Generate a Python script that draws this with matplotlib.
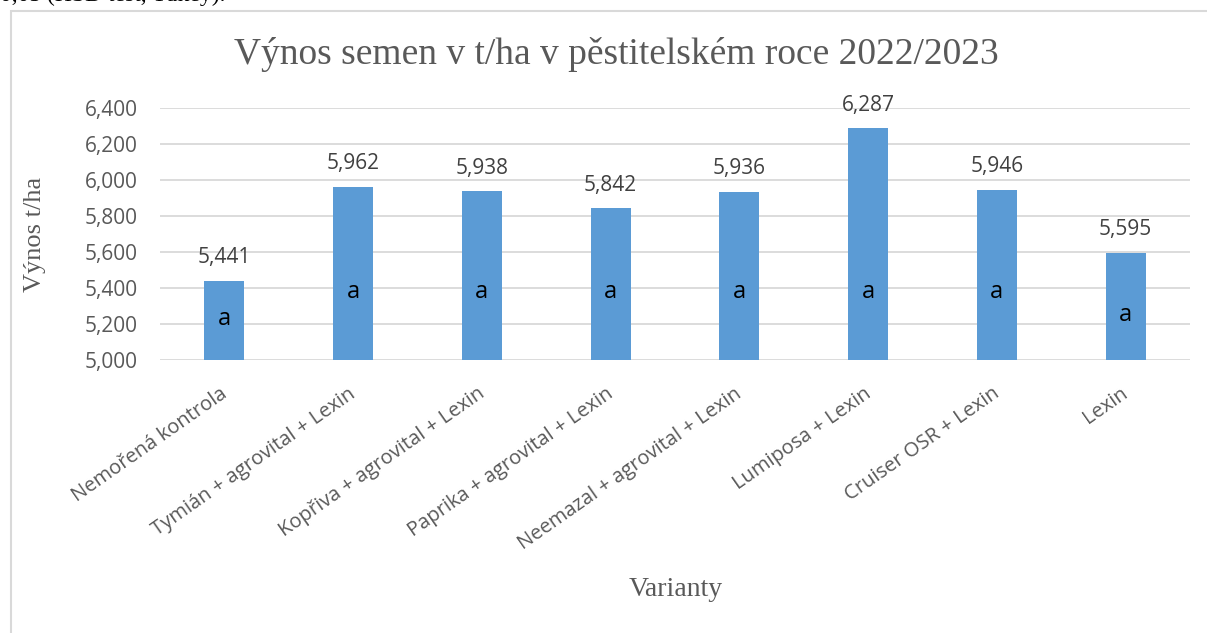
import matplotlib.pyplot as plt
import matplotlib.transforms as mtransforms
from matplotlib.patches import Rectangle
from matplotlib.ticker import FuncFormatter

BLUE = "#5B9BD5"
GREY_TEXT = "#595959"
GRID = "#D9D9D9"

categories = [
    "Nemořená kontrola",
    "Tymián + agrovital + Lexin",
    "Kopřiva + agrovital + Lexin",
    "Paprika + agrovital + Lexin",
    "Neemazal + agrovital + Lexin",
    "Lumiposa + Lexin",
    "Cruiser OSR + Lexin",
    "Lexin",
]
yields = [5441, 5962, 5938, 5842, 5936, 6287, 5946, 5595]
groups = ["a", "a", "a", "a", "a", "a", "a", "a"]
group_label_y = [5230, 5380, 5380, 5380, 5380, 5380, 5380, 5250]
yticks = [5000, 5200, 5400, 5600, 5800, 6000, 6200, 6400]

SANS = ["Open Sans", "DejaVu Sans"]
SERIF = ["Liberation Serif", "DejaVu Serif"]

fig = plt.figure(figsize=(12.07, 6.33), dpi=100)
ax = fig.add_axes([160 / 1207, 1 - 360 / 633, 1030 / 1207, 252 / 633])

# chart frame (Excel-style border, right/bottom edges run off the page)
fig.patches.append(Rectangle((11 / 1207, -0.05), 1.2, 1.05 - 11 / 633,
                             transform=fig.transFigure, fill=False,
                             edgecolor=GRID, linewidth=1.5))
# bottom edge of the document line above the chart, cut off by the crop
fig.text(0.0, 1 - 1.5 / 633, "0,05 (HSD test, Tukey).", family=SERIF,
         fontsize=17, color="black", ha="left", va="baseline")

x = list(range(len(categories)))
ax.bar(x, [v - 5000 for v in yields], bottom=5000, width=0.31, color=BLUE, zorder=3)

for xi, v in zip(x, yields):
    ax.text(xi, v + 128, f"{v:,}", ha="center", va="center", family=SANS,
            fontsize=15, color="#404040")
for xi, g, gy in zip(x, groups, group_label_y):
    ax.text(xi, gy, g, ha="center", va="center", family=SANS,
            fontsize=17, color="black", zorder=4)

ax.set_xlim(-0.5, len(categories) - 0.5)
ax.set_ylim(5000, 6400)
ax.set_yticks(yticks)
ax.yaxis.set_major_formatter(FuncFormatter(lambda v, _: f"{int(v):,}"))
ax.grid(axis="y", color=GRID, linewidth=1.3, zorder=0)
ax.set_axisbelow(True)
for s in ax.spines.values():
    s.set_visible(False)
ax.tick_params(axis="both", length=0, colors=GREY_TEXT)
ax.tick_params(axis="y", pad=16)
for lbl in ax.get_yticklabels():
    lbl.set_family(SANS)
    lbl.set_fontsize(15)

ax.set_xticks(x)
ax.set_xticklabels(categories, rotation=35, ha="right", va="top",
                   rotation_mode="anchor", family=SANS, fontsize=14.5,
                   color=GREY_TEXT)
ax.tick_params(axis="x", pad=17)
shift = mtransforms.ScaledTranslation(-5 / 100, 0, fig.dpi_scale_trans)
for lbl in ax.get_xticklabels():
    lbl.set_transform(lbl.get_transform() + shift)

fig.text(616 / 1207, 1 - 55 / 633, "Výnos semen v t/ha v pěstitelském roce 2022/2023",
         family=SERIF, fontsize=27, color=GREY_TEXT, ha="center", va="center")
fig.text(35 / 1207, 1 - 234 / 633, "Výnos t/ha", rotation=90, family=SERIF,
         fontsize=19, color=GREY_TEXT, ha="center", va="center")
fig.text(676 / 1207, 1 - 590 / 633, "Varianty", family=SERIF,
         fontsize=20, color=GREY_TEXT, ha="center", va="center")

fig.savefig("out.png", dpi=100, facecolor="white")
